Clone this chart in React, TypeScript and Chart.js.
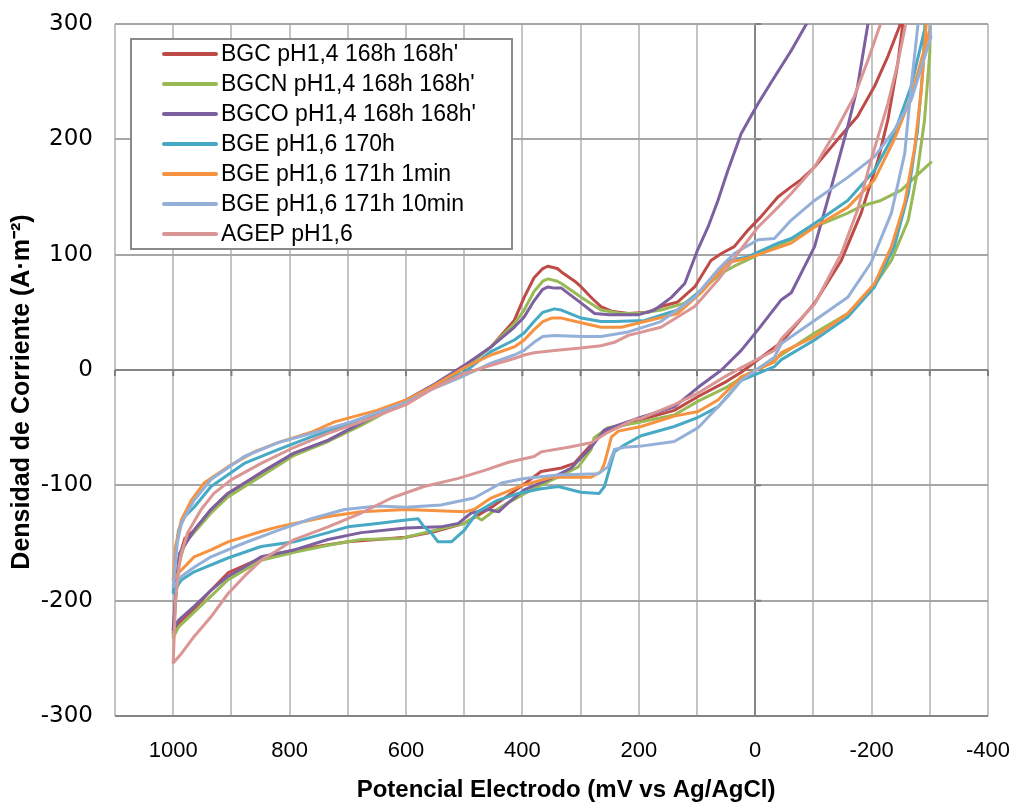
import { useEffect, useRef } from "react";
import { Chart, registerables } from "chart.js";

Chart.register(...registerables);

type Pt = [number, number | null];

const seriesNames = [
  "BGC pH1,4 168h 168h'",
  "BGCN pH1,4 168h 168h'",
  "BGCO pH1,4 168h 168h'",
  "BGE pH1,6 170h",
  "BGE pH1,6 171h 1min",
  "BGE pH1,6 171h 10min",
  "AGEP pH1,6",
];

const seriesColors = ["#BE4B48", "#98B954", "#7D60A0", "#46AAC5", "#F69240", "#94B0D8", "#D99694"];

const xTitle = "Potencial Electrodo (mV vs Ag/AgCl)";
const yTitle = "Densidad de Corriente (A·m⁻²)";

const bgc: Pt[] = [
  [1000, -228], [995, -190], [990, -163], [980, -146], [964, -139], [935, -121], [906, -107], [849, -89], [792, -72], [734, -61], [677, -46], [600, -27], [550, -14], [500, 2], [454, 20], [414, 43], [397, 63], [380, 80], [365, 88], [356, 90], [340, 88], [333, 85], [310, 77], [299, 72], [280, 62], [265, 55], [247, 51], [218, 49], [184, 50], [162, 55], [133, 59], [104, 72], [76, 95], [58, 101], [36, 107], [13, 121], [-10, 133], [-39, 150], [-62, 159], [-79, 165], [-102, 176], [-142, 200], [-176, 220], [-205, 246], [-228, 272], [-248, 298], [-256, 312],
  [-262, 312], [-254, 301], [-245, 266], [-228, 217], [-211, 182], [-182, 136], [-148, 95], [-102, 58], [-45, 24], [24, -2], [53, -11], [98, -23], [139, -35], [196, -43], [253, -52], [270, -58], [311, -81], [333, -85], [368, -88], [400, -100], [450, -118], [500, -133], [550, -140], [600, -145], [700, -149], [792, -156], [849, -163], [906, -176], [935, -191], [964, -207], [991, -220], [1000, -228],
];

const bgcn: Pt[] = [
  [1000, -232], [995, -195], [990, -168], [980, -150], [964, -141], [935, -124], [906, -110], [849, -92], [792, -74], [734, -62], [677, -48], [600, -27], [550, -14], [500, 2], [454, 20], [414, 40], [397, 52], [380, 68], [365, 77], [356, 79], [340, 77], [333, 75], [299, 63], [265, 52], [230, 49], [200, 49], [162, 52], [121, 58], [93, 69], [58, 84], [36, 90], [-10, 101], [-62, 113], [-102, 124], [-159, 136], [-182, 142], [-216, 147], [-251, 156], [-274, 167], [-302, 180],
  [-302, null],
  [-301, 320], [-300, 275], [-291, 217], [-279, 173], [-263, 130], [-234, 95], [-199, 69], [-159, 49], [-102, 32], [-33, 9], [24, -7], [53, -16], [98, -27], [139, -39], [196, -45], [253, -50], [277, -59], [282, -69], [304, -84], [339, -93], [385, -104], [424, -115], [454, -124], [470, -130], [480, -127], [500, -133], [550, -139], [608, -146], [677, -147], [734, -152], [792, -158], [849, -165], [906, -182], [935, -196], [964, -210], [991, -223], [1000, -232],
];

const bgco: Pt[] = [
  [1000, -225], [995, -188], [989, -159], [964, -139], [935, -121], [906, -107], [849, -89], [792, -72], [734, -61], [677, -46], [600, -26], [550, -12], [500, 4], [454, 20], [414, 37], [397, 46], [380, 60], [365, 70], [356, 72], [345, 71], [333, 71], [299, 58], [276, 49], [250, 48], [200, 48], [173, 52], [144, 63], [121, 75], [99, 104], [81, 124], [64, 147], [47, 173], [24, 205], [-5, 231], [-27, 249], [-62, 277], [-88, 300], [-95, 312],
  [-198, 312], [-194, 301], [-176, 246], [-159, 211], [-131, 159], [-102, 107], [-62, 67], [-45, 61], [-5, 35], [24, 17], [58, 0], [98, -15], [139, -32], [196, -41], [259, -52], [282, -67], [316, -85], [351, -94], [397, -104], [424, -115], [441, -123], [459, -121], [488, -124], [510, -133], [540, -136], [600, -137], [677, -141], [734, -147], [792, -156], [849, -162], [878, -171], [906, -179], [935, -191], [964, -205], [991, -217], [1000, -225],
];

const bge170: Pt[] = [
  [1000, -193], [997, -165], [991, -139], [980, -127], [964, -119], [935, -101], [878, -81], [820, -69], [763, -58], [706, -48], [650, -37], [600, -28], [557, -15], [500, -2], [454, 16], [414, 26], [397, 32], [380, 42], [365, 50], [345, 53], [333, 52], [299, 45], [265, 42], [242, 42], [190, 43], [133, 52], [93, 69], [47, 95], [13, 98], [-39, 110], [-62, 114], [-102, 127], [-159, 147], [-205, 173], [-239, 205], [-268, 246], [-291, 295], [-294, 312],
  [-296, 312], [-292, 301], [-288, 260], [-279, 208], [-263, 153], [-239, 107], [-205, 72], [-159, 46], [-102, 26], [-45, 9], [-33, 3], [24, -9], [64, -32], [98, -41], [139, -49], [196, -57], [225, -65], [242, -71], [259, -101], [268, -107], [300, -106], [338, -101], [368, -103], [407, -107], [443, -113], [477, -123], [500, -139], [522, -149], [545, -149], [557, -141], [569, -136], [579, -129], [600, -130], [649, -133], [700, -136], [734, -141], [792, -149], [849, -153], [906, -163], [964, -175], [986, -182], [1000, -193],
];

const bge171a: Pt[] = [
  [1000, -182], [996, -153], [986, -130], [969, -113], [947, -98], [906, -84], [861, -71], [820, -63], [763, -54], [723, -45], [650, -35], [600, -26], [557, -15], [500, 2], [454, 13], [414, 20], [397, 26], [380, 35], [365, 42], [350, 45], [333, 45], [299, 41], [265, 37], [230, 37], [190, 42], [133, 49], [93, 67], [47, 93], [13, 97], [-62, 110], [-102, 124], [-159, 141], [-205, 165], [-239, 200], [-268, 237], [-300, 295], [-302, 312],
  [-295, 312], [-294, 301], [-285, 240], [-274, 193], [-257, 145], [-234, 107], [-205, 75], [-159, 49], [-102, 29], [-45, 15], [-33, 7], [24, -6], [64, -26], [98, -36], [139, -40], [196, -49], [235, -53], [247, -58], [259, -81], [265, -88], [282, -93], [350, -93], [400, -100], [454, -111], [483, -121], [500, -123], [600, -121], [677, -123], [734, -127], [763, -130], [820, -136], [849, -140], [906, -149], [935, -156], [964, -162], [991, -176], [1000, -182],
];

const bge171b: Pt[] = [
  [1000, -188], [993, -150], [986, -133], [964, -113], [935, -95], [878, -75], [820, -63], [763, -55], [700, -46], [650, -37], [600, -28], [557, -17], [500, -5], [454, 6], [414, 13], [397, 17], [380, 24], [365, 29], [345, 30], [299, 29], [265, 29], [218, 33], [162, 42], [104, 63], [64, 87], [36, 101], [-5, 113], [-33, 114], [-62, 130], [-102, 147], [-159, 167], [-205, 185], [-239, 208], [-268, 234], [-302, 289],
  [-301, 340], [-280, 301], [-268, 246], [-257, 188], [-234, 136], [-199, 93], [-159, 63], [-102, 43], [-45, 23], [-33, 11], [24, -9], [47, -23], [81, -41], [98, -50], [139, -62], [196, -66], [225, -67], [242, -69], [253, -84], [270, -90], [339, -91], [397, -94], [436, -98], [483, -111], [540, -117], [600, -119], [648, -118], [706, -121], [763, -129], [820, -139], [878, -150], [935, -162], [964, -171], [986, -179], [1000, -188],
];

const agep: Pt[] = [
  [1000, -254], [996, -200], [990, -170], [986, -159], [975, -141], [952, -121], [930, -107], [900, -95], [849, -81], [792, -67], [734, -55], [677, -45], [600, -30], [557, -17], [500, -3], [454, 4], [414, 10], [397, 13], [380, 15], [345, 17], [300, 19], [265, 21], [242, 24], [218, 30], [162, 37], [104, 55], [64, 78], [30, 101], [-5, 124], [-39, 141], [-62, 153], [-102, 176], [-136, 205], [-170, 237], [-194, 269], [-216, 301], [-220, 312],
  [-265, 312], [-259, 301], [-245, 266], [-228, 231], [-199, 182], [-176, 139], [-148, 101], [-102, 57], [-45, 27], [-33, 17], [24, 2], [53, -6], [98, -20], [139, -30], [196, -42], [208, -43], [253, -54], [282, -63], [321, -67], [368, -71], [380, -75], [424, -80], [465, -87], [510, -94], [569, -101], [625, -111], [677, -124], [734, -136], [792, -147], [820, -156], [849, -165], [878, -179], [906, -194], [935, -214], [964, -231], [986, -246], [1000, -254],
];

const allSeries: Pt[][] = [bgc, bgcn, bgco, bge170, bge171a, bge171b, agep];

const xLabelValues = [1000, 800, 600, 400, 200, 0, -200, -400];
const xMin = -400;
const xMax = 1100;
const yMin = -300;
const yMax = 300;

const legendPlugin = {
  id: "boxLegend",
  afterDatasetsDraw(chart: any) {
    const ctx = chart.ctx as CanvasRenderingContext2D;
    ctx.save();
    const bx = 131, by = 39, bw = 381, bh = 210;
    ctx.fillStyle = "#ffffff";
    ctx.fillRect(bx, by, bw, bh);
    ctx.strokeStyle = "#8a8a8a";
    ctx.lineWidth = 2;
    ctx.strokeRect(bx, by, bw, bh);
    ctx.font = "23px 'Liberation Sans', Arial, sans-serif";
    ctx.textBaseline = "middle";
    ctx.textAlign = "left";
    seriesNames.forEach((name, i) => {
      const y = 54 + i * 30;
      ctx.strokeStyle = seriesColors[i];
      ctx.lineWidth = 4;
      ctx.lineCap = "round";
      ctx.beginPath();
      ctx.moveTo(164, y);
      ctx.lineTo(216, y);
      ctx.stroke();
      ctx.fillStyle = "#000000";
      ctx.fillText(name, 221, y + 1);
    });
    ctx.restore();
  },
};

const titlesPlugin = {
  id: "axisTitles",
  afterDraw(chart: any) {
    const ctx = chart.ctx as CanvasRenderingContext2D;
    ctx.save();
    ctx.fillStyle = "#000000";
    ctx.textAlign = "center";
    ctx.textBaseline = "middle";
    ctx.font = "bold 24px 'Liberation Sans', Arial, sans-serif";
    ctx.fillText(xTitle, 566, 790);
    ctx.translate(22, 392);
    ctx.rotate(-Math.PI / 2);
    ctx.font = "bold 25px 'Liberation Sans', Arial, sans-serif";
    ctx.fillText(yTitle, 0, 0);
    ctx.restore();
  },
};

const axisTickPlugin = {
  id: "zeroAxisTicks",
  beforeDatasetsDraw(chart: any) {
    const ctx = chart.ctx as CanvasRenderingContext2D;
    const xs = chart.scales.x;
    const ys = chart.scales.y;
    const y0 = ys.getPixelForValue(0);
    const x0 = xs.getPixelForValue(0);
    ctx.save();
    ctx.strokeStyle = "#808080";
    ctx.lineWidth = 2;
    ctx.beginPath();
    for (let v = xMin; v <= xMax; v += 100) {
      const px = xs.getPixelForValue(v);
      ctx.moveTo(px, y0);
      ctx.lineTo(px, y0 + 6);
    }
    for (let v = yMin; v <= yMax; v += 100) {
      const py = ys.getPixelForValue(v);
      ctx.moveTo(x0, py);
      ctx.lineTo(x0 + 6, py);
    }
    ctx.stroke();
    ctx.restore();
  },
};

export default function App() {
  const ref = useRef<HTMLCanvasElement>(null);
  useEffect(() => {
    document.body.style.margin = "0";
    if (!ref.current) return;
    Chart.defaults.color = "#000000";
    const datasets = allSeries.map((s, i) => ({
      label: seriesNames[i],
      data: s.map(([x, y]) => ({ x, y })),
      borderColor: seriesColors[i],
      backgroundColor: seriesColors[i],
      borderWidth: 3,
      pointRadius: 0,
      pointHoverRadius: 0,
      tension: 0,
      spanGaps: false,
      clip: 0,
      order: -i,
      borderJoinStyle: "round" as const,
      borderCapStyle: "round" as const,
    }));
    const chart = new Chart(ref.current, {
      type: "line",
      data: { datasets },
      plugins: [axisTickPlugin, legendPlugin, titlesPlugin],
      options: {
        animation: false,
        responsive: true,
        maintainAspectRatio: false,
        layout: { padding: { top: 24, right: 27, left: 0, bottom: 0 } },
        plugins: { legend: { display: false }, tooltip: { enabled: false } },
        scales: {
          x: {
            type: "linear",
            min: xMin,
            max: xMax,
            reverse: true,
            afterFit: (scale: any) => {
              scale.height = 88;
            },
            border: { display: false },
            grid: {
              drawTicks: true,
              tickLength: 22,
              tickColor: "rgba(0,0,0,0)",
              lineWidth: 2,
              color: (c: any) => (c.tick && c.tick.value === 0 ? "#858585" : "#c4c4c4"),
            },
            ticks: {
              stepSize: 100,
              autoSkip: false,
              maxRotation: 0,
              padding: 0,
              font: { family: "'Liberation Sans', Arial, sans-serif", size: 22 },
              color: "#000000",
              callback: (v: any) => (xLabelValues.includes(Number(v)) ? String(v) : ""),
            },
            title: { display: false },
          },
          y: {
            min: yMin,
            max: yMax,
            afterFit: (scale: any) => {
              scale.width = 115;
            },
            border: { display: false },
            grid: {
              drawTicks: true,
              tickLength: 22,
              tickColor: "rgba(0,0,0,0)",
              lineWidth: 2,
              color: (c: any) =>
                c.tick && (c.tick.value === 0 || c.tick.value === yMin) ? "#858585" : "#a6a6a6",
            },
            ticks: {
              stepSize: 100,
              padding: 0,
              font: { family: "'DejaVu Sans', sans-serif", size: 23 },
              color: "#000000",
            },
            title: { display: false },
          },
        },
      },
    });
    return () => chart.destroy();
  }, []);
  return (
    <div style={{ position: "relative", width: 1015, height: 804 }}>
      <canvas ref={ref} />
    </div>
  );
}
